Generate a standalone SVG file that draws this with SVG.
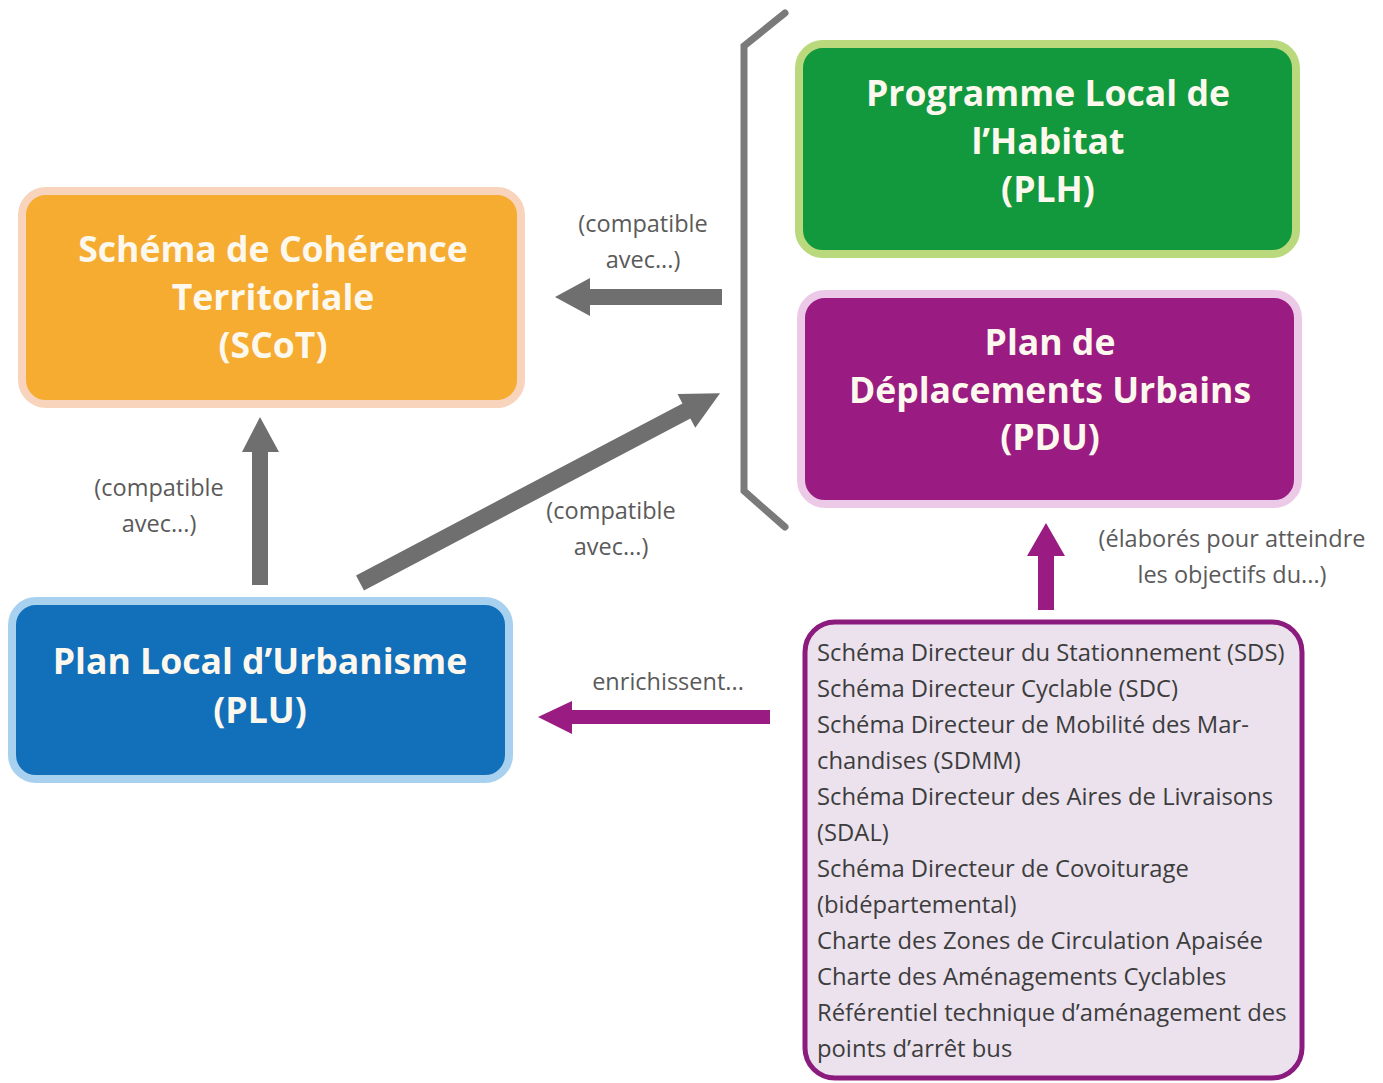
<svg xmlns="http://www.w3.org/2000/svg" width="1383" height="1083" viewBox="0 0 1383 1083">
<style>
.box{stroke-width:8}
.title{font-family:"Open Sans","Liberation Sans",sans-serif;font-weight:bold;font-size:35.6px;fill:#fdf8ee;text-anchor:middle}
.lbl{font-family:"Open Sans","Liberation Sans",sans-serif;font-size:23.5px;fill:#5a5a5a;text-anchor:middle}
.item{font-family:"Open Sans","Liberation Sans",sans-serif;font-size:23.8px;fill:#3d3d3d}
.gray{fill:#6f6f6f}
.mag{fill:#9a1b82}
</style>
<rect width="1383" height="1083" fill="#ffffff"/>
<g id="connectors">
<polyline points="785,13 744,46 744,491 785,527" fill="none" stroke="#7a7a7a" stroke-width="7" stroke-linejoin="miter" stroke-linecap="round"/>
<polygon class="gray" points="722,289 590,289 590,278 555,297 590,316 590,305 722,305"/>
<polygon class="gray" points="252,585 252,452 242,452 260,417 279,452 268,452 268,585"/>
<polygon class="gray" transform="translate(360,583) rotate(-27.8)" points="0,-8.5 369,-8.5 369,-19 407,0 369,19 369,8.5 0,8.5"/>
<polygon class="mag" points="770,710 572,710 572,701 538,717 572,734 572,724 770,724"/>
<polygon class="mag" points="1038,610 1038,556 1027,556 1046,523 1065,556 1054,556 1054,610"/>
<text class="lbl" x="643" y="232">(compatible</text>
<text class="lbl" x="643" y="268">avec...)</text>
<text class="lbl" x="159" y="496">(compatible</text>
<text class="lbl" x="159" y="532">avec...)</text>
<text class="lbl" x="611" y="519">(compatible</text>
<text class="lbl" x="611" y="555">avec...)</text>
<text class="lbl" x="1232" y="547">(élaborés pour atteindre</text>
<text class="lbl" x="1232" y="583">les objectifs du...)</text>
<text class="lbl" x="668" y="690">enrichissent...</text>
</g>
<g id="scot">
<rect class="box" x="22" y="191" width="499" height="213" rx="24" fill="#f5ac31" stroke="#f9d4bd"/>
<text class="title" x="273" y="262">Schéma de Cohérence</text>
<text class="title" x="273" y="310">Territoriale</text>
<text class="title" x="273" y="358">(SCoT)</text>
</g>
<g id="plh">
<rect class="box" x="799" y="44" width="497" height="210" rx="24" fill="#12983d" stroke="#b9d97c"/>
<text class="title" x="1048" y="106">Programme Local de</text>
<text class="title" x="1048" y="154">l’Habitat</text>
<text class="title" x="1048" y="202">(PLH)</text>
</g>
<g id="pdu">
<rect class="box" x="801" y="294" width="497" height="210" rx="24" fill="#9a1b81" stroke="#ecc9e6"/>
<text class="title" x="1050" y="355">Plan de</text>
<text class="title" x="1050" y="403">Déplacements Urbains</text>
<text class="title" x="1050" y="450">(PDU)</text>
</g>
<g id="plu">
<rect class="box" x="12" y="601" width="497" height="178" rx="24" fill="#126fba" stroke="#a8d1ef"/>
<text class="title" x="260" y="674">Plan Local d’Urbanisme</text>
<text class="title" x="260" y="723">(PLU)</text>
</g>
<g id="list">
<rect x="805" y="622" width="497" height="456" rx="30" fill="#ebe2ee" stroke="#8b1b7d" stroke-width="5"/>
<text class="item" x="817" y="661">Schéma Directeur du Stationnement (SDS)</text>
<text class="item" x="817" y="697">Schéma Directeur Cyclable (SDC)</text>
<text class="item" x="817" y="733">Schéma Directeur de Mobilité des Mar-</text>
<text class="item" x="817" y="769">chandises (SDMM)</text>
<text class="item" x="817" y="805">Schéma Directeur des Aires de Livraisons</text>
<text class="item" x="817" y="841">(SDAL)</text>
<text class="item" x="817" y="877">Schéma Directeur de Covoiturage</text>
<text class="item" x="817" y="913">(bidépartemental)</text>
<text class="item" x="817" y="949">Charte des Zones de Circulation Apaisée</text>
<text class="item" x="817" y="985">Charte des Aménagements Cyclables</text>
<text class="item" x="817" y="1021">Référentiel technique d’aménagement des</text>
<text class="item" x="817" y="1057">points d’arrêt bus</text>
</g>
</svg>
